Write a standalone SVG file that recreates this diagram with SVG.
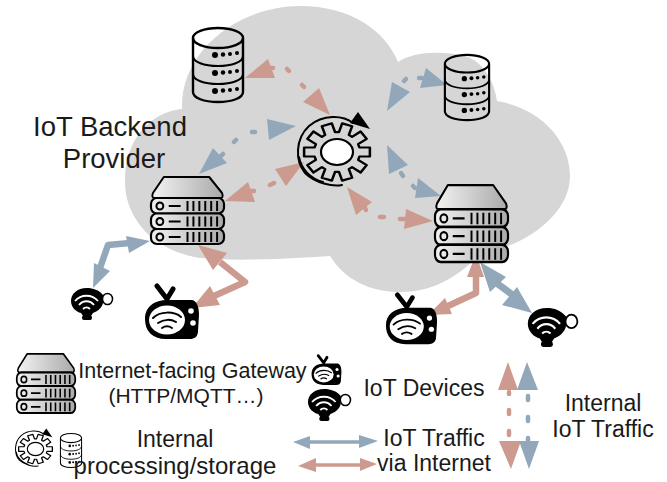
<svg xmlns="http://www.w3.org/2000/svg" width="667" height="482" viewBox="0 0 667 482">
<style>
text{font-family:"Liberation Sans",Arial,sans-serif;font-size:23px;fill:#1a1a1a;text-anchor:middle}
.s{fill:none;stroke:#000;stroke-width:2;stroke-linecap:round;stroke-linejoin:round}
.b{fill:#92a8ba}.r{fill:#cc9a8e}
.bl{fill:none;stroke:#92a8ba;stroke-linejoin:round}.rl{fill:none;stroke:#cc9a8e;stroke-linejoin:round}
.d{stroke-width:4.500;stroke-linecap:round}
.t{stroke-width:6.500}
</style>
<defs>
<linearGradient id="g" x1="0" x2="1" y1="0" y2="0"><stop offset="0" stop-color="#f2f2f2"/><stop offset="1" stop-color="#aaa"/></linearGradient>
<symbol id="server" viewBox="0 0 76 68" overflow="visible" preserveAspectRatio="none">
<path d="M14 1H60L73 17Q75 22 71 22H5Q1 22 3 17Z" fill="url(#g)" stroke="#000" stroke-width="2" stroke-linejoin="round"/>
<g fill="url(#g)" stroke="#000" stroke-width="2.200"><rect x="1" y="22" width="74" height="15.500" rx="6"/><rect x="1" y="37.500" width="74" height="15.500" rx="6"/><rect x="1" y="53" width="74" height="15" rx="6"/></g>
<g id="row"><circle cx="10" cy="30" r="3.500" fill="none" stroke="#000" stroke-width="2"/><path d="M19 30H31M38 25V35M44 25V35M50 25V35M56 25V35M62 25V35M68 25V35" stroke="#000" stroke-width="2"/></g>
<use href="#row" y="15.500"/><use href="#row" y="31"/>
</symbol>
<symbol id="db" viewBox="0 0 52 76" overflow="visible" preserveAspectRatio="none">
<path d="M1 11V65C1 71 12 75 26 75S51 71 51 65V11" fill="none" stroke="#000" stroke-width="2.400"/>
<ellipse cx="26" cy="11" rx="25" ry="10" fill="none" stroke="#000" stroke-width="2.400"/>
<path class="s" stroke-width="2.400" d="M1 29C1 35 12 39 26 39S51 35 51 29M1 47C1 53 12 57 26 57S51 53 51 47"/>
<g fill="#000"><circle cx="23" cy="28" r="3"/><circle cx="31" cy="27.500" r="2.200"/><circle cx="38" cy="27" r="2"/><circle cx="45" cy="26" r="2"/><circle cx="23" cy="46" r="3"/><circle cx="31" cy="45.500" r="2.200"/><circle cx="38" cy="45" r="2"/><circle cx="45" cy="44" r="2"/><circle cx="23" cy="64" r="3"/><circle cx="31" cy="63.500" r="2.200"/><circle cx="38" cy="63" r="2"/><circle cx="45" cy="62" r="2"/></g>
</symbol>
<symbol id="gear" viewBox="-40 -40 80 80" overflow="visible">
<path transform="translate(0 1) scale(1.150 1)" fill="none" stroke="#000" stroke-width="2.200" stroke-linejoin="round" d="M28.600-4.500 28.600 4.500 19.500 4.500 18.400 7.800 25.800 13.200 20.500 20.500 13.100 15.100 10.300 17.100 13.200 25.800 4.500 28.600 1.700 19.900-1.700 19.900-4.500 28.600-13.200 25.800-10.300 17.100-13.100 15.100-20.500 20.500-25.800 13.200-18.400 7.800-19.500 4.500-28.600 4.500-28.600-4.500-19.500-4.500-18.400-7.800-25.800-13.200-20.500-20.500-13.100-15.100-10.300-17.100-13.200-25.800-4.500-28.600-1.700-19.900 1.700-19.900 4.500-28.600 13.200-25.800 10.300-17.100 13.100-15.100 20.500-20.500 25.800-13.200 18.400-7.800 19.500-4.500Z"/>
<ellipse cx="0" cy="1" rx="16" ry="13" fill="#fff" stroke="#000" stroke-width="2.200"/>
<path class="s" stroke-width="2.200" d="M16-28C6-36-14-37-28-25-42-12-42 10-32 22-22 32-4 36 5 34M-38 6C-36 18-26 28-14 31"/>
<path d="M13-28 21-39 33-22Z" fill="#000"/>
</symbol>
<symbol id="tv" viewBox="0 0 56 58" overflow="visible" preserveAspectRatio="none">
<path d="M13 3 23 16M29 6 23 16" stroke="#000" stroke-width="5" stroke-linecap="round"/>
<path d="M24 17H48C53 18 55 24 55 32L54 48C54 54 50 56 46 56H22C8 56 1 48 1 36 1 24 10 17 24 17Z" fill="#000"/>
<ellipse cx="23" cy="37" rx="18" ry="14.500" fill="#fff"/>
<path d="M9 35C16 28 30 28 37 34M14 40C20 36 27 36 32 39M18 45C21 43 25 43 28 45" stroke="#000" stroke-width="2" fill="none" stroke-linecap="round"/>
<circle cx="47" cy="28" r="2.800" fill="#fff"/><circle cx="49" cy="40" r="2.800" fill="#fff"/>
</symbol>
<symbol id="bulb" viewBox="0 0 41 32" overflow="visible" preserveAspectRatio="none">
<path d="M15 0C5 0-1 6-1 13-1 19 4 24 9 25L11 28H19L21 25C27 23 31 18 31 14V7C27 2 21 0 15 0Z" fill="#000"/>
<rect x="10" y="27.500" width="10" height="4.500" rx="2" fill="#000"/>
<ellipse cx="35.500" cy="11" rx="5" ry="5.500" fill="#fff" stroke="#000" stroke-width="1.500"/>
<path d="M3 13C9 6 20 6 26 13M7 17C11 12 18 12 22 17M11 21C13 19 16 19 18 21" stroke="#fff" stroke-width="1.800" fill="none"/>
</symbol>
</defs>
<g id="cloud"><path fill="#d6d6d6" d="M182 109C180 50 240 6 300 6 350 6 385 30 398 62 412 52 440 50 465 56 485 62 495 85 497 101 540 108 570 140 570 176 570 212 530 245 480 254 455 280 430 292 400 292 370 292 345 280 330 256 300 258 240 262 200 258 150 250 124 215 125 180 125 140 150 112 182 109Z"/></g>
<g id="connectors">
<path class="rl d" d="M271 68H273M287 69 289 71M302 85 304 87"/>
<path class="r" d="M245 78 268 59 275 78ZM330 115 303 102 319 88Z"/>
<path class="bl d" d="M221 156 223 154M234 142 236 140M252 132H255"/>
<path class="b" d="M199 174 213 148 227 163ZM296 126 269 140 267 119Z"/>
<path class="rl d" d="M251 191H254M270 185 274 183"/>
<path class="r" d="M225 201 248 182 255 202ZM304 162 286 186 275 169Z"/>
<path class="rl d" d="M365 208 366 210M380 217H384M400 219H404"/>
<path class="r" d="M347 187 372 202 356 215ZM433 221 406 209 404 229Z"/>
<path class="bl d" d="M404 81 406 79M419 78H422"/>
<path class="b" d="M387 111 392 82 410 92ZM447 85 426 68 420 88Z"/>
<path class="bl d" d="M401 173 403 176M413 186 415 188"/>
<path class="b" d="M387 145 408 165 389 174ZM441 196 418 178 415 198Z"/>
<g><path class="bl t" d="M100 268 108 245 130 243"/><path class="b" d="M93 288 94 263 110 271ZM150 241 126 236 129 253Z"/></g>
<g><path class="rl t" d="M220 262 245 282 214 296"/><path class="r" d="M198 245 227 253 213 270ZM192 308 210 286 220 305Z"/></g>
<g><path class="rl t" d="M476 275V293L448 306"/><path class="r" d="M476 254 484 277 467 277ZM428 315 445 298 452 314Z"/></g>
<g><path class="bl" stroke-width="7" d="M495 282 517 298"/><path class="b" d="M480 262 506 277 490 292ZM532 313 502 305 517 287Z"/></g>
<g><path class="bl" stroke-width="3.500" d="M305 442H365"/><path class="b" d="M293 442 310 436V449ZM378 441 359 435V448Z"/></g>
<g><path class="rl" stroke-width="3.500" d="M310 465H365"/><path class="r" d="M298 466 316 458V472ZM377 464 360 458V471Z"/></g>
<path class="r" d="M508 362 498 390H518ZM511 469 499 441H521Z"/>
<path class="b" d="M527 362 517 390H538ZM529 469 519 441H539Z"/>
<path class="rl d" d="M509 392V394M509 410V414M509 431V435"/>
<path class="bl d" d="M528 396V400M528 417V421M528 438V441"/>
</g>
<g id="db-top"><use href="#db" x="192" y="27" width="52" height="76"/></g>
<g id="db-right"><use href="#db" x="444" y="54" width="46" height="67"/></g>
<g id="gear-main"><use href="#gear" x="297" y="111" width="80" height="80"/></g>
<g id="gateway-left"><use href="#server" x="150" y="176" width="75" height="68"/></g>
<g id="gateway-right"><use href="#server" x="434" y="184" width="75" height="78"/></g>
<g id="device-bulb-left"><use href="#bulb" x="72" y="288" width="41" height="32"/></g>
<g id="device-tv-left"><use href="#tv" x="144" y="283" width="56" height="58"/></g>
<g id="device-tv-right"><use href="#tv" x="385" y="292" width="53" height="54"/></g>
<g id="device-bulb-right"><use href="#bulb" x="529" y="308" width="49" height="39"/></g>
<g id="label-provider"><text x="110" y="136" style="font-size:27.500px">IoT Backend</text><text x="114" y="168" style="font-size:27.500px">Provider</text></g>
<g id="legend-gateway"><use href="#server" x="16" y="353" width="60" height="60"/><text x="192.500" y="378" style="font-size:21.500px">Internet-facing Gateway</text><text x="186" y="403" style="font-size:21px">(HTTP/MQTT…)</text></g>
<g id="legend-internal"><use href="#gear" x="15" y="428" width="41" height="41"/><use href="#db" x="60" y="433" width="22" height="35"/><text x="175" y="447">Internal</text><text x="175" y="474" style="font-size:24px">processing/storage</text></g>
<g id="legend-devices"><use href="#tv" x="311" y="354" width="31" height="32"/><use href="#bulb" x="309" y="389" width="42" height="32"/><text x="424" y="396">IoT Devices</text></g>
<g id="legend-traffic"><text x="434" y="446">IoT Traffic</text><text x="434" y="471">via Internet</text></g>
<g id="legend-internal-traffic"><text x="603" y="411">Internal</text><text x="603" y="437">IoT Traffic</text></g>
</svg>
